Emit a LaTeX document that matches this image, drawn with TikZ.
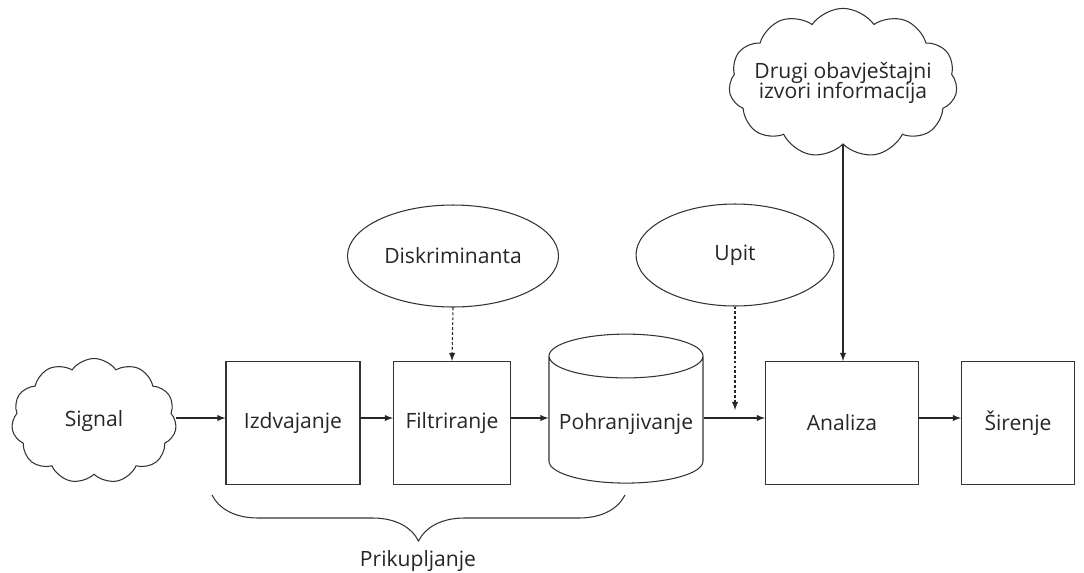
\documentclass[tikz,border=0pt]{standalone}
\usepackage{fontspec}
\setmainfont{Open Sans}
\usepackage{tikz}
\usetikzlibrary{arrows,shapes,positioning,calc,decorations.pathreplacing}

\begin{document}
\begin{tikzpicture}[x=0.02cm, y=-0.02cm, >=latex, line width=0.6pt,
    every node/.style={font=\fontsize{12}{14.5}\selectfont, text=black!85},
    stagebox/.style={draw=black!80, minimum width=2.68cm, minimum height=2.46cm},
    oval/.style={draw=black!80, ellipse, minimum width=4.1cm, minimum height=2.04cm},
    puff/.style={draw=black!80, cloud, cloud puffs=11, cloud puff arc=110, aspect=1.4},
    flow/.style={->, draw=black!85},
    hint/.style={->, draw=black!85, dash pattern=on 1.6pt off 1.2pt}]
    \useasboundingbox (0,0) rectangle (1084,572);

    % processing chain
    \node[puff, minimum width=3.3cm, minimum height=2.5cm] (signal) at (94,421) {Signal};
    \node[stagebox] (izdv) at (293,423) {Izdvajanje};
    \node[stagebox, minimum width=2.34cm] (filt) at (452,423) {Filtriranje};
    \node[draw=black!80, cylinder, shape border rotate=90, aspect=0.3,
          minimum width=3.08cm, minimum height=2.98cm] (pohr) at (626,424) {Pohranjivanje};
    \node[stagebox, minimum width=3.06cm] (anal) at (842,423) {Analiza};
    \node[stagebox, minimum width=2.26cm] (sire) at (1018,423) {Širenje};

    % inputs from above
    \node[oval] (diskr) at (453,256) {Diskriminanta};
    \node[oval, minimum width=3.96cm] (upit) at (735,255) {Upit};
    \node[puff, aspect=1.8, inner xsep=-0.22cm, inner ysep=-0.16cm,
          align=center] (drugi) at (843,83)
        {Drugi obavještajni\\[-3pt] izvori informacija};

    \coordinate (upitend) at (735,410);

    % connectors
    \draw[flow] (signal.east |- 0,418) -- (izdv.west |- 0,418);
    \draw[flow] (izdv.east |- 0,418) -- (filt.west |- 0,418);
    \draw[flow] (filt.east |- 0,418) -- (pohr.west |- 0,418);
    \draw[flow] (pohr.east |- 0,418) -- (anal.west |- 0,418);
    \draw[flow] (anal.east |- 0,418) -- (sire.west |- 0,418);
    \draw[hint] (diskr.south) -- (filt.north);
    \draw[hint] (upit.south) -- (upitend);
    \draw[flow] (drugi.south) -- (anal.north -| drugi.south);

    % grouping brace
    \draw[black!80, decorate, decoration={brace, mirror, amplitude=0.92cm}]
        (212,495) -- (625,495);
    \node (prik) at (418,561) {Prikupljanje};
\end{tikzpicture}
\end{document}
